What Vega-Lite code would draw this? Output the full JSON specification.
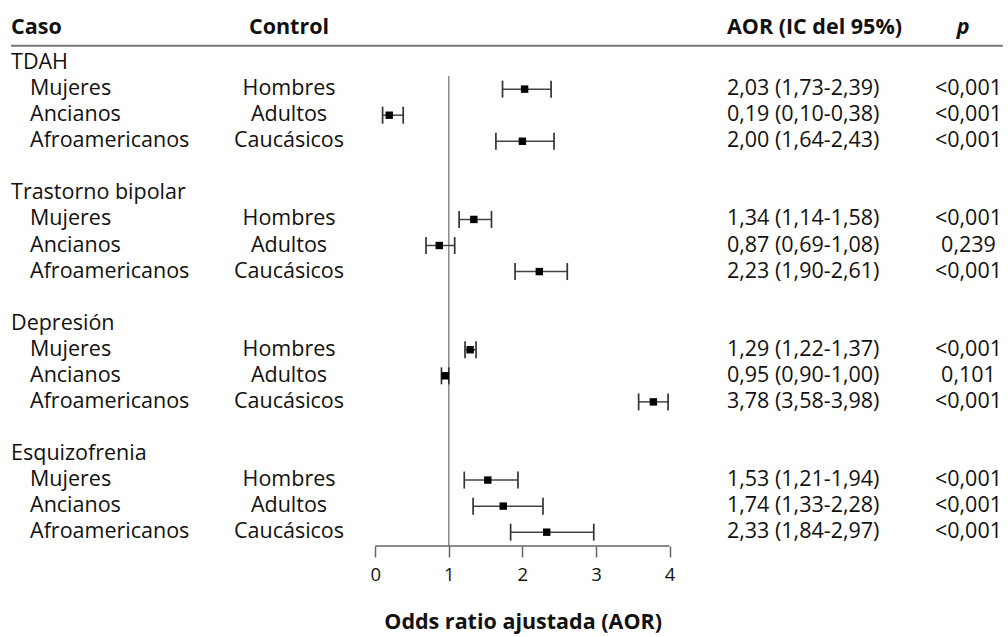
{
  "$schema": "https://vega.github.io/schema/vega-lite/v6.json",
  "width": 1008,
  "height": 546,
  "padding": {"left": 0, "right": 0, "top": 0, "bottom": 4},
  "background": "white",
  "config": {
    "view": {"stroke": null},
    "text": {"font": "Open Sans", "fontSize": 21.5, "color": "#111"}
  },
  "data": {"values": [{}]},
  "datasets": {
    "grupos": [
      {"orden": 0, "caso": "TDAH"},
      {"orden": 5, "caso": "Trastorno bipolar"},
      {"orden": 10, "caso": "Depresión"},
      {"orden": 15, "caso": "Esquizofrenia"}
    ],
    "comparaciones": [
      {"orden": 1, "caso": "Mujeres", "control": "Hombres", "aor": 2.03, "li": 1.73, "ls": 2.39, "ic": "2,03 (1,73-2,39)", "p": "<0,001"},
      {"orden": 2, "caso": "Ancianos", "control": "Adultos", "aor": 0.19, "li": 0.10, "ls": 0.38, "ic": "0,19 (0,10-0,38)", "p": "<0,001"},
      {"orden": 3, "caso": "Afroamericanos", "control": "Caucásicos", "aor": 2.00, "li": 1.64, "ls": 2.43, "ic": "2,00 (1,64-2,43)", "p": "<0,001"},
      {"orden": 6, "caso": "Mujeres", "control": "Hombres", "aor": 1.34, "li": 1.14, "ls": 1.58, "ic": "1,34 (1,14-1,58)", "p": "<0,001"},
      {"orden": 7, "caso": "Ancianos", "control": "Adultos", "aor": 0.87, "li": 0.69, "ls": 1.08, "ic": "0,87 (0,69-1,08)", "p": "0,239"},
      {"orden": 8, "caso": "Afroamericanos", "control": "Caucásicos", "aor": 2.23, "li": 1.90, "ls": 2.61, "ic": "2,23 (1,90-2,61)", "p": "<0,001"},
      {"orden": 11, "caso": "Mujeres", "control": "Hombres", "aor": 1.29, "li": 1.22, "ls": 1.37, "ic": "1,29 (1,22-1,37)", "p": "<0,001"},
      {"orden": 12, "caso": "Ancianos", "control": "Adultos", "aor": 0.95, "li": 0.90, "ls": 1.00, "ic": "0,95 (0,90-1,00)", "p": "0,101"},
      {"orden": 13, "caso": "Afroamericanos", "control": "Caucásicos", "aor": 3.78, "li": 3.58, "ls": 3.98, "ic": "3,78 (3,58-3,98)", "p": "<0,001"},
      {"orden": 16, "caso": "Mujeres", "control": "Hombres", "aor": 1.53, "li": 1.21, "ls": 1.94, "ic": "1,53 (1,21-1,94)", "p": "<0,001"},
      {"orden": 17, "caso": "Ancianos", "control": "Adultos", "aor": 1.74, "li": 1.33, "ls": 2.28, "ic": "1,74 (1,33-2,28)", "p": "<0,001"},
      {"orden": 18, "caso": "Afroamericanos", "control": "Caucásicos", "aor": 2.33, "li": 1.84, "ls": 2.97, "ic": "2,33 (1,84-2,97)", "p": "<0,001"}
    ]
  },
  "layer": [
    {
      "description": "Line under the column headers",
      "mark": {"type": "rule", "color": "#777", "strokeWidth": 2},
      "encoding": {
        "x": {"datum": -4.95, "type": "quantitative", "title": null, "scale": {"domain": [-5.1, 8.6], "nice": false, "zero": false}},
        "x2": {"datum": 8.53},
        "y": {"datum": -0.66, "type": "quantitative", "scale": {"domain": [-2.42, 18.53], "reverse": true, "nice": false, "zero": false}, "axis": null}
      }
    },
    {
      "description": "Column headers",
      "mark": {"type": "text", "align": "left", "baseline": "middle", "fontWeight": "bold"},
      "encoding": {
        "x": {"datum": -4.95, "type": "quantitative", "title": null},
        "y": {"datum": -1.35, "type": "quantitative", "axis": null},
        "text": {"value": "Caso"}
      }
    },
    {
      "mark": {"type": "text", "align": "center", "baseline": "middle", "fontWeight": "bold"},
      "encoding": {
        "x": {"datum": -1.172, "type": "quantitative", "title": null},
        "y": {"datum": -1.35, "type": "quantitative", "axis": null},
        "text": {"value": "Control"}
      }
    },
    {
      "mark": {"type": "text", "align": "left", "baseline": "middle", "fontWeight": "bold"},
      "encoding": {
        "x": {"datum": 4.78, "type": "quantitative", "title": null},
        "y": {"datum": -1.35, "type": "quantitative", "axis": null},
        "text": {"value": "AOR (IC del 95%)"}
      }
    },
    {
      "mark": {"type": "text", "align": "center", "baseline": "middle", "fontWeight": "bold", "fontStyle": "italic"},
      "encoding": {
        "x": {"datum": 7.99, "type": "quantitative", "title": null},
        "y": {"datum": -1.35, "type": "quantitative", "axis": null},
        "text": {"value": "p"}
      }
    },
    {
      "description": "Diagnosis group labels",
      "data": {"name": "grupos"},
      "mark": {"type": "text", "align": "left", "baseline": "middle"},
      "encoding": {
        "x": {"datum": -4.95, "type": "quantitative", "title": null},
        "y": {"field": "orden", "type": "quantitative", "axis": null},
        "text": {"field": "caso"}
      }
    },
    {
      "description": "Case group, indented under its diagnosis",
      "data": {"name": "comparaciones"},
      "mark": {"type": "text", "align": "left", "baseline": "middle", "dx": 19},
      "encoding": {
        "x": {"datum": -4.95, "type": "quantitative", "title": null},
        "y": {"field": "orden", "type": "quantitative", "axis": null},
        "text": {"field": "caso"}
      }
    },
    {
      "description": "Control group",
      "data": {"name": "comparaciones"},
      "mark": {"type": "text", "align": "center", "baseline": "middle"},
      "encoding": {
        "x": {"datum": -1.172, "type": "quantitative", "title": null},
        "y": {"field": "orden", "type": "quantitative", "axis": null},
        "text": {"field": "control"}
      }
    },
    {
      "description": "AOR with its 95% confidence interval",
      "data": {"name": "comparaciones"},
      "mark": {"type": "text", "align": "left", "baseline": "middle"},
      "encoding": {
        "x": {"datum": 4.78, "type": "quantitative", "title": null},
        "y": {"field": "orden", "type": "quantitative", "axis": null},
        "text": {"field": "ic"}
      }
    },
    {
      "description": "p value",
      "data": {"name": "comparaciones"},
      "mark": {"type": "text", "align": "center", "baseline": "middle"},
      "encoding": {
        "x": {"datum": 8.063, "type": "quantitative", "title": null},
        "y": {"field": "orden", "type": "quantitative", "axis": null},
        "text": {"field": "p"}
      }
    },
    {
      "description": "No-effect reference line at AOR = 1",
      "mark": {"type": "rule", "color": "#777", "strokeWidth": 1.3},
      "encoding": {
        "x": {"datum": 1, "type": "quantitative", "title": null},
        "y": {"datum": 0.5, "type": "quantitative", "axis": null},
        "y2": {"datum": 18.53}
      }
    },
    {
      "description": "Axis baseline spanning 0 to 4",
      "mark": {"type": "rule", "color": "#666", "strokeWidth": 1.5},
      "encoding": {
        "x": {"datum": 0, "type": "quantitative", "title": null},
        "x2": {"datum": 4},
        "y": {"datum": 18.53, "type": "quantitative", "axis": null}
      }
    },
    {
      "description": "Confidence interval whiskers",
      "data": {"name": "comparaciones"},
      "mark": {"type": "rule", "color": "#444", "strokeWidth": 1.5},
      "encoding": {
        "x": {"field": "li", "type": "quantitative", "title": null},
        "x2": {"field": "ls"},
        "y": {"field": "orden", "type": "quantitative", "axis": null}
      }
    },
    {
      "data": {"name": "comparaciones"},
      "mark": {"type": "tick", "orient": "vertical", "size": 17, "thickness": 1.7, "color": "#333", "opacity": 1},
      "encoding": {
        "x": {"field": "li", "type": "quantitative", "title": null},
        "y": {"field": "orden", "type": "quantitative", "axis": null}
      }
    },
    {
      "data": {"name": "comparaciones"},
      "mark": {"type": "tick", "orient": "vertical", "size": 17, "thickness": 1.7, "color": "#333", "opacity": 1},
      "encoding": {
        "x": {"field": "ls", "type": "quantitative", "title": null},
        "y": {"field": "orden", "type": "quantitative", "axis": null}
      }
    },
    {
      "description": "Point estimate of the adjusted odds ratio",
      "data": {"name": "comparaciones"},
      "mark": {"type": "point", "shape": "square", "filled": true, "size": 55, "color": "#000", "opacity": 1},
      "encoding": {
        "x": {
          "field": "aor",
          "type": "quantitative",
          "title": null,
          "axis": {
            "values": [0, 1, 2, 3, 4],
            "format": "d",
            "domain": false,
            "grid": false,
            "title": null,
            "ticks": true,
            "tickSize": 11,
            "tickColor": "#666",
            "tickWidth": 1.5,
            "labelFont": "Open Sans",
            "labelFontSize": 18.5,
            "labelColor": "#111",
            "labelPadding": 8
          }
        },
        "y": {"field": "orden", "type": "quantitative", "axis": null}
      }
    },
    {
      "description": "Axis title centred under the 0-4 range",
      "mark": {"type": "text", "align": "center", "baseline": "middle", "fontWeight": "bold"},
      "encoding": {
        "x": {"datum": 2.01, "type": "quantitative", "title": null},
        "y": {"datum": 21.5, "type": "quantitative", "axis": null},
        "text": {"value": "Odds ratio ajustada (AOR)"}
      }
    }
  ]
}
